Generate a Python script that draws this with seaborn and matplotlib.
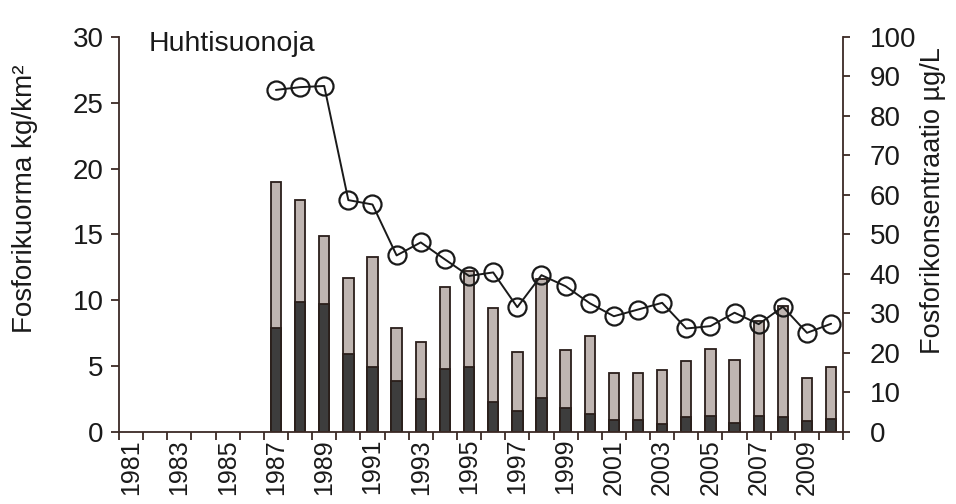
import matplotlib
matplotlib.use("Agg")
import matplotlib.pyplot as plt
import seaborn as sns
import numpy as np
import pandas as pd

# Annual phosphorus load (kg/km2) and concentration (ug/L), Huhtisuonoja
years = list(range(1981, 2011))
total_load = [np.nan] * 6 + [
    19.0, 17.6, 14.9, 11.7, 13.3, 7.9, 6.8, 11.0, 12.2, 9.4,
    6.1, 11.6, 6.2, 7.3, 4.5, 4.5, 4.7, 5.4, 6.3, 5.5,
    8.4, 9.6, 4.1, 4.9,
]
dissolved_load = [np.nan] * 6 + [
    7.9, 9.9, 9.7, 5.9, 4.9, 3.9, 2.5, 4.8, 4.9, 2.3,
    1.6, 2.6, 1.8, 1.4, 0.9, 0.9, 0.6, 1.1, 1.2, 0.7,
    1.2, 1.1, 0.8, 1.0,
]
concentration = [np.nan] * 6 + [
    86.6, 87.3, 87.6, 58.7, 57.6, 44.7, 48.0, 43.7, 39.5, 40.4,
    31.6, 39.7, 36.9, 32.6, 29.3, 31.0, 32.7, 26.2, 26.8, 30.2,
    27.3, 31.7, 25.1, 27.4,
]
tick_years = list(range(1981, 2011, 2))

df = pd.DataFrame({
    "year": years,
    "total": total_load,
    "dissolved": dissolved_load,
    "conc": concentration,
})

sns.set_theme(style="ticks")
plt.rcParams["font.family"] = ["Liberation Sans", "DejaVu Sans"]

spine_col = "#3b2a25"
text_col = "#1a1a1a"
fig = plt.figure(figsize=(9.56, 5.04), dpi=100)
ax = fig.add_axes([0.1245, 0.1429, 0.7575, 0.7837])

sns.barplot(data=df, x="year", y="total", native_scale=True, width=0.43,
            color="#bfb5b1", edgecolor="#2a1e1a", linewidth=1.3,
            saturation=1, ax=ax)
sns.barplot(data=df, x="year", y="dissolved", native_scale=True, width=0.43,
            color="#3d3d3d", edgecolor="#2a1e1a", linewidth=1.3,
            saturation=1, ax=ax)

ax2 = ax.twinx()
sns.lineplot(data=df, x="year", y="conc", ax=ax2, color="#1a1a1a",
             linewidth=1.4, marker="o", markersize=13,
             markerfacecolor="none", markeredgecolor="#1a1a1a",
             markeredgewidth=1.6)

ax.set_xlim(1980.5, 2010.5)
ax.set_ylim(0, 30)
ax2.set_ylim(0, 100)

ax.set_xticks(tick_years)
ax.set_xticklabels([str(y) for y in tick_years], rotation=90)
ax.set_xticks(np.arange(1980.5, 2011, 1), minor=True)
ax.tick_params(axis="x", which="major", length=0, pad=5, labelsize=18,
               labelcolor=text_col)
ax.tick_params(axis="x", which="minor", length=6, width=1.3, color=spine_col)
ax.set_yticks(range(0, 31, 5))
ax.tick_params(axis="y", length=6, width=1.3, color=spine_col, labelsize=20,
               pad=5, labelcolor=text_col)
ax2.set_yticks(range(0, 101, 10))
ax2.tick_params(axis="y", length=5, width=1.3, color=spine_col, labelsize=20,
                pad=14, labelcolor=text_col)

ax.set_xlabel("")
ax.set_ylabel("Fosforikuorma kg/km²", fontsize=20, color=text_col)
ax2.set_ylabel("Fosforikonsentraatio µg/L", fontsize=19.5, color=text_col,
               rotation=90)
ax.yaxis.set_label_coords(-0.112, 0.59)
ax2.yaxis.set_label_coords(1.106, 0.587)

for a in (ax, ax2):
    a.spines["top"].set_visible(False)
    for s in ("left", "right", "bottom"):
        a.spines[s].set_color(spine_col)
        a.spines[s].set_linewidth(1.3)
ax.spines["right"].set_visible(False)
ax2.spines["left"].set_visible(False)
ax2.spines["bottom"].set_visible(False)

ax.text(0.0414, 0.965, "Huhtisuonoja", transform=ax.transAxes,
        fontsize=20.5, ha="left", va="baseline", color=text_col)

fig.savefig("out.png", dpi=100)
